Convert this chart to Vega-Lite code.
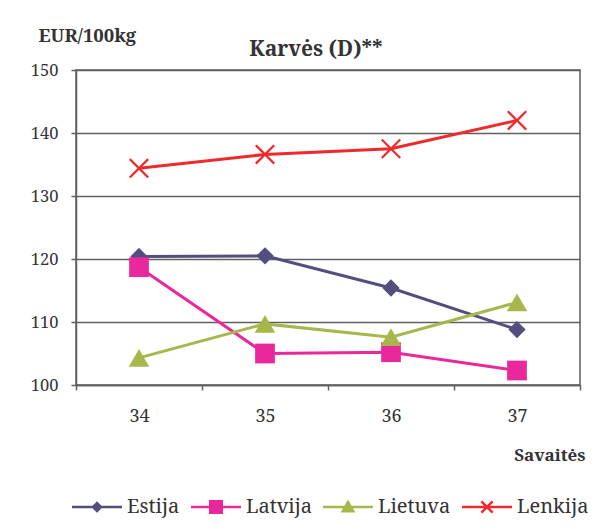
{
  "$schema": "https://vega.github.io/schema/vega-lite/v6.json",
  "width": 504,
  "height": 315,
  "autosize": "none",
  "padding": {"left": 76, "top": 70, "right": 33, "bottom": 144},
  "background": "white",
  "config": {
    "view": {"stroke": "#5f5f5f", "strokeWidth": 1.5},
    "font": "Noto Serif"
  },
  "title": {
    "text": "Karvės (D)**",
    "font": "Noto Serif",
    "fontSize": 21,
    "fontWeight": "bold",
    "color": "#333333",
    "anchor": "middle",
    "frame": "group",
    "dx": -12,
    "offset": 0,
    "dy": 34
  },
  "data": {
    "values": [
      {"week": 34, "country": "Estija", "value": 120.4},
      {"week": 35, "country": "Estija", "value": 120.5},
      {"week": 36, "country": "Estija", "value": 115.4},
      {"week": 37, "country": "Estija", "value": 108.8},
      {"week": 34, "country": "Latvija", "value": 118.7},
      {"week": 35, "country": "Latvija", "value": 105.0},
      {"week": 36, "country": "Latvija", "value": 105.2},
      {"week": 37, "country": "Latvija", "value": 102.3},
      {"week": 34, "country": "Lietuva", "value": 104.3},
      {"week": 35, "country": "Lietuva", "value": 109.7},
      {"week": 36, "country": "Lietuva", "value": 107.6},
      {"week": 37, "country": "Lietuva", "value": 113.1},
      {"week": 34, "country": "Lenkija", "value": 134.4},
      {"week": 35, "country": "Lenkija", "value": 136.6},
      {"week": 36, "country": "Lenkija", "value": 137.5},
      {"week": 37, "country": "Lenkija", "value": 142.0}
    ]
  },
  "encoding": {
    "x": {
      "field": "week",
      "type": "quantitative",
      "scale": {"domain": [33.5, 37.5], "nice": false, "zero": false},
      "axis": {
        "values": [33.5, 34, 34.5, 35, 35.5, 36, 36.5, 37, 37.5],
        "labelExpr": "datum.value % 1 == 0 ? format(datum.value, 'd') : ''",
        "tickOpacity": {"condition": {"test": "datum.value % 1 == 0", "value": 0}, "value": 1},
        "tickSize": 5,
        "tickColor": "#5f5f5f",
        "tickWidth": 1.5,
        "domainColor": "#5f5f5f",
        "domainWidth": 1.5,
        "grid": false,
        "labelFont": "Noto Serif",
        "labelFontSize": 18,
        "labelColor": "#333333",
        "labelPadding": 17,
        "labelFlush": false,
        "labelOverlap": false,
        "title": "Savaitės",
        "titleFont": "Noto Serif",
        "titleFontSize": 17,
        "titleFontWeight": "bold",
        "titleColor": "#333333",
        "titleAlign": "right",
        "titleBaseline": "alphabetic",
        "titleX": 509,
        "titleY": 75
      }
    },
    "y": {
      "field": "value",
      "type": "quantitative",
      "scale": {"domain": [100, 150], "nice": false, "zero": false},
      "axis": {
        "values": [100, 110, 120, 130, 140, 150],
        "grid": true,
        "gridColor": "#5f5f5f",
        "gridWidth": 1.5,
        "domainColor": "#5f5f5f",
        "domainWidth": 1.5,
        "tickColor": "#5f5f5f",
        "tickWidth": 1.5,
        "tickSize": 5,
        "labelFont": "Noto Serif",
        "labelFontSize": 16.5,
        "labelColor": "#333333",
        "labelPadding": 13,
        "title": "EUR/100kg",
        "titleFont": "Noto Serif",
        "titleAngle": 0,
        "titleX": -38,
        "titleY": -29,
        "titleAlign": "left",
        "titleBaseline": "alphabetic",
        "titleFontSize": 18.5,
        "titleFontWeight": "bold",
        "titleColor": "#333333"
      }
    },
    "color": {
      "field": "country",
      "type": "nominal",
      "scale": {
        "domain": ["Estija", "Latvija", "Lietuva", "Lenkija"],
        "range": ["#524f80", "#e8289b", "#a8b74b", "#ef2a2c"]
      },
      "legend": {
        "orient": "none",
        "legendX": -4,
        "legendY": 412,
        "direction": "horizontal",
        "columns": 4,
        "title": null,
        "padding": 0,
        "symbolSize": 2500,
        "symbolStrokeWidth": 0,
        "symbolOpacity": 1,
        "labelFont": "Noto Serif",
        "labelFontSize": 20,
        "labelColor": "#333333",
        "labelOffset": 5,
        "columnPadding": 11,
        "encode": {
          "symbols": {
            "update": {
              "fill": {"value": {"expr": "scale('color', datum.value)"}},
              "fillOpacity": {"value": 1},
              "opacity": {"value": 1},
              "strokeWidth": {"value": 0}
            }
          }
        }
      }
    }
  },
  "layer": [
    {"mark": {"type": "line", "strokeWidth": 3}},
    {
      "transform": [{"filter": "datum.country == 'Estija'"}],
      "mark": {"type": "point", "shape": "diamond", "filled": true, "opacity": 1, "size": 300}
    },
    {
      "transform": [{"filter": "datum.country == 'Latvija'"}],
      "mark": {"type": "point", "shape": "square", "filled": true, "opacity": 1, "size": 390}
    },
    {
      "transform": [{"filter": "datum.country == 'Lietuva'"}],
      "mark": {"type": "point", "shape": "triangle-up", "filled": true, "opacity": 1, "size": 420}
    },
    {
      "transform": [{"filter": "datum.country == 'Lenkija'"}],
      "mark": {"type": "point", "shape": "M-1,-0.84L-0.84,-1L0,-0.16L0.84,-1L1,-0.84L0.16,0L1,0.84L0.84,1L0,0.16L-0.84,1L-1,0.84L-0.16,0Z", "filled": true, "opacity": 1, "size": 400}
    },
    {
      "transform": [{"filter": "false"}],
      "mark": {"type": "point", "filled": true, "opacity": 1},
      "encoding": {
        "shape": {
          "field": "country",
          "type": "nominal",
          "scale": {
            "domain": ["Estija", "Latvija", "Lietuva", "Lenkija"],
            "range": [
              "M-1,-0.05L1,-0.05L1,0.05L-1,0.05ZM-0.23,0L0,-0.23L0.23,0L0,0.23Z",
              "M-1,-0.05L1,-0.05L1,0.05L-1,0.05ZM-0.28,-0.28L0.28,-0.28L0.28,0.28L-0.28,0.28Z",
              "M-1,-0.05L1,-0.05L1,0.05L-1,0.05ZM0,-0.3L0.3,0.22L-0.3,0.22Z",
              "M-1,-0.05L1,-0.05L1,0.05L-1,0.05ZM-0.26,-0.19L-0.19,-0.26L0,-0.07L0.19,-0.26L0.26,-0.19L0.07,0L0.26,0.19L0.19,0.26L0,0.07L-0.19,0.26L-0.26,0.19L-0.07,0Z"
            ]
          }
        }
      }
    }
  ]
}
